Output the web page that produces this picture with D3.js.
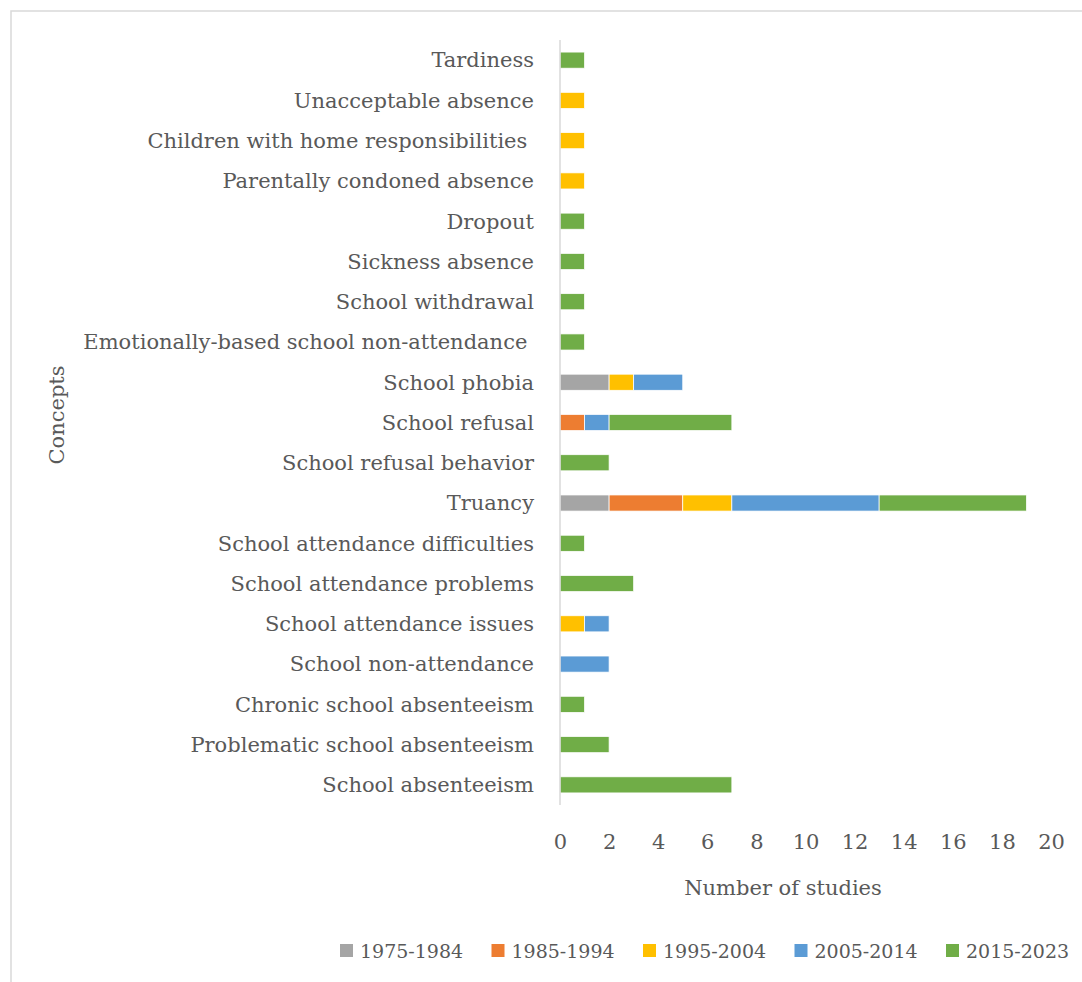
<!DOCTYPE html>
<html>
<head>
<meta charset="utf-8">
<script src="https://cdn.jsdelivr.net/npm/d3@7"></script>
<style>
  body { margin: 0; background: #fff; }
  svg text { font-family: "DejaVu Serif", serif; fill: #595959; }
</style>
</head>
<body>
<div id="chart"></div>
<script>
// datos
const concepts = [
  "Tardiness", "Unacceptable absence", "Children with home responsibilities ",
  "Parentally condoned absence", "Dropout", "Sickness absence", "School withdrawal",
  "Emotionally-based school non-attendance ", "School phobia", "School refusal",
  "School refusal behavior", "Truancy", "School attendance difficulties",
  "School attendance problems", "School attendance issues", "School non-attendance",
  "Chronic school absenteeism", "Problematic school absenteeism", "School absenteeism"
];
const periods = ["1975-1984", "1985-1994", "1995-2004", "2005-2014", "2015-2023"];
const colors = ["#A5A5A5", "#ED7D31", "#FFC000", "#5B9BD5", "#70AD47"];

const s1975 = [0, 0, 0, 0, 0, 0, 0, 0, 2, 0, 0, 2, 0, 0, 0, 0, 0, 0, 0];
const s1985 = [0, 0, 0, 0, 0, 0, 0, 0, 0, 1, 0, 3, 0, 0, 0, 0, 0, 0, 0];
const s1995 = [0, 1, 1, 1, 0, 0, 0, 0, 1, 0, 0, 2, 0, 0, 1, 0, 0, 0, 0];
const s2005 = [0, 0, 0, 0, 0, 0, 0, 0, 2, 1, 0, 6, 0, 0, 1, 2, 0, 0, 0];
const s2015 = [1, 0, 0, 0, 1, 1, 1, 1, 0, 5, 2, 6, 1, 3, 0, 0, 1, 2, 7];
const xTicks = [0, 2, 4, 6, 8, 10, 12, 14, 16, 18, 20];

const width = 1082, height = 982;
const svg = d3.select("#chart").append("svg")
  .attr("width", width).attr("height", height);

// marco del gráfico
svg.append("rect")
  .attr("x", 11).attr("y", 11)
  .attr("width", width + 10).attr("height", height + 10)
  .attr("fill", "none").attr("stroke", "#D9D9D9").attr("stroke-width", 1.5);

const x = d3.scaleLinear().domain([0, 20]).range([560, 1051]);
const y = d3.scaleBand().domain(concepts).range([40, 805]).paddingInner(0.6).paddingOuter(0.3);

// tabla para apilar
const table = concepts.map((c, i) => ({
  concept: c,
  "1975-1984": s1975[i], "1985-1994": s1985[i], "1995-2004": s1995[i],
  "2005-2014": s2005[i], "2015-2023": s2015[i]
}));
const stacked = d3.stack().keys(periods)(table);

svg.append("g")
  .selectAll("g")
  .data(stacked)
  .join("g")
  .attr("fill", (d, i) => colors[i])
  .selectAll("rect")
  .data(d => d.filter(p => p[1] > p[0]))
  .join("rect")
  .attr("x", d => x(d[0]))
  .attr("width", d => x(d[1]) - x(d[0]))
  .attr("y", d => y(d.data.concept))
  .attr("height", y.bandwidth())
  .attr("stroke", "#fff")
  .attr("stroke-width", 0.75);

// eje vertical
svg.append("line")
  .attr("x1", x(0)).attr("x2", x(0))
  .attr("y1", 40).attr("y2", 805)
  .attr("stroke", "#D9D9D9").attr("stroke-width", 1.5);

// etiquetas de categorías
svg.append("g")
  .selectAll("text")
  .data(concepts)
  .join("text")
  .attr("x", 534)
  .attr("y", d => y(d) + y.bandwidth() / 2)
  .attr("dy", "0.35em")
  .attr("text-anchor", "end")
  .attr("font-size", 21)
  .style("white-space", "pre")
  .text(d => d);

// eje x (solo etiquetas)
const xAxis = svg.append("g")
  .attr("transform", "translate(0,842)")
  .call(d3.axisBottom(x).tickValues(xTicks).tickSize(0).tickPadding(0));
xAxis.select(".domain").remove();
xAxis.selectAll("text")
  .attr("font-size", 21)
  .attr("dy", "0.35em")
  .style("font-family", "DejaVu Serif, serif")
  .attr("fill", "#595959");

svg.append("text")
  .attr("x", 783).attr("y", 888)
  .attr("dy", "0.35em")
  .attr("text-anchor", "middle")
  .attr("font-size", 21)
  .text("Number of studies");

svg.append("text")
  .attr("transform", "translate(57,415) rotate(-90)")
  .attr("dy", "0.35em")
  .attr("text-anchor", "middle")
  .attr("font-size", 21)
  .text("Concepts");

// leyenda
const legend = svg.append("g")
  .selectAll("g")
  .data(periods)
  .join("g")
  .attr("transform", (d, i) => `translate(${340 + i * 151.5},951)`);
legend.append("rect")
  .attr("x", 0).attr("y", -7)
  .attr("width", 13).attr("height", 13)
  .attr("fill", (d, i) => colors[i]);
legend.append("text")
  .attr("x", 20).attr("y", 0)
  .attr("dy", "0.35em")
  .attr("font-size", 19)
  .text(d => d);
</script>
</body>
</html>
